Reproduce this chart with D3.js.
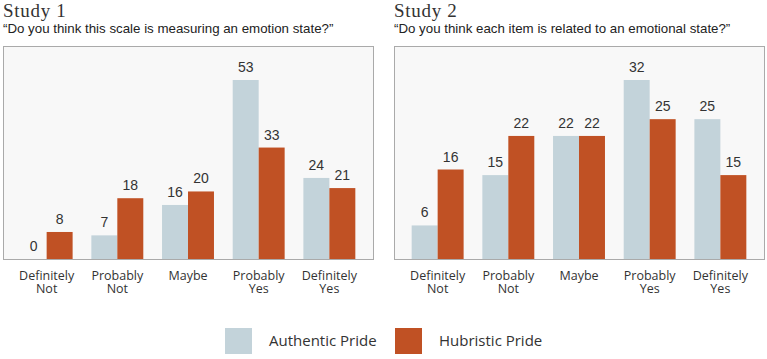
<!DOCTYPE html>
<html>
<head>
<meta charset="utf-8">
<script src="https://cdn.jsdelivr.net/npm/d3@7"></script>
<style>
  body { margin: 0; background: #fff; }
  svg { display: block; }
</style>
</head>
<body>
<svg width="767" height="359"></svg>
<script>
const categories = ["Definitely Not", "Probably Not", "Maybe", "Probably Yes", "Definitely Yes"];
const seriesNames = ["Authentic Pride", "Hubristic Pride"];
const study1Authentic = [0, 7, 16, 53, 24];
const study1Hubristic = [8, 18, 20, 33, 21];
const study2Authentic = [6, 15, 22, 32, 25];
const study2Hubristic = [16, 22, 22, 25, 15];
const titles = ["Study 1", "Study 2"];
const questions = [
  "\u201cDo you think this scale is measuring an emotion state?\u201d",
  "\u201cDo you think each item is related to an emotional state?\u201d"
];

const colors = ["#c3d3da", "#c05124"];
const svg = d3.select("svg");

const panels = [
  {x: 3, title: titles[0], question: questions[0], series: [study1Authentic, study1Hubristic]},
  {x: 394, title: titles[1], question: questions[1], series: [study2Authentic, study2Hubristic]}
];
const pw = 370, plotTop = 46, plotBottom = 259;

panels.forEach(p => {
  const g = svg.append("g").attr("transform", `translate(${p.x},0)`);

  g.append("text")
    .attr("x", 0).attr("y", 17)
    .style("font-family", "'Liberation Serif', serif")
    .style("font-size", "19px")
    .style("letter-spacing", "0.7px")
    .attr("fill", "#333")
    .text(p.title);

  g.append("text")
    .attr("x", 0).attr("y", 33)
    .style("font-family", "'Liberation Sans', Arial, sans-serif")
    .style("font-size", "13.3px")
    .attr("fill", "#222")
    .text(p.question);

  g.append("rect")
    .attr("x", 0.5).attr("y", plotTop + 0.5)
    .attr("width", pw).attr("height", plotBottom - plotTop)
    .attr("fill", "#f8f8f8")
    .attr("stroke", "#aaa");

  const x = d3.scaleBand()
    .domain(categories)
    .range([0, pw])
    .paddingInner(0.265)
    .paddingOuter(0.25);

  const xs = d3.scaleBand()
    .domain(seriesNames)
    .range([0, x.bandwidth()]);

  const maxV = d3.max(p.series.flat());
  const y = d3.scaleLinear()
    .domain([0, maxV * 1.19])
    .range([plotBottom, plotTop]);

  const rows = categories.map((c, i) => seriesNames.map((s, j) => ({cat: c, name: s, v: p.series[j][i], j})));

  const grp = g.selectAll(".grp")
    .data(rows)
    .join("g")
    .attr("transform", (d, i) => `translate(${x(categories[i])},0)`);

  grp.selectAll("rect")
    .data(d => d)
    .join("rect")
    .attr("x", d => xs(d.name))
    .attr("width", xs.bandwidth())
    .attr("y", d => y(d.v))
    .attr("height", d => plotBottom - y(d.v))
    .attr("fill", d => colors[d.j]);

  grp.selectAll(".lbl")
    .data(d => d)
    .join("text")
    .attr("class", "lbl")
    .attr("x", d => xs(d.name) + xs.bandwidth() / 2)
    .attr("y", d => y(d.v) - 8)
    .attr("text-anchor", "middle")
    .style("font-family", "'Liberation Sans', Arial, sans-serif")
    .style("font-size", "14px")
    .attr("fill", "#333")
    .text(d => d.v);

  // category labels, two lines each
  const axis = g.append("g")
    .attr("transform", `translate(0,${plotBottom})`)
    .call(d3.axisBottom(x).tickSize(0).tickPadding(0));
  axis.select(".domain").remove();
  axis.selectAll("text").each(function(d) {
    const t = d3.select(this);
    const words = d.split(" ");
    t.text(null)
      .attr("y", 0)
      .attr("dy", null)
      .style("font-family", "'Open Sans', sans-serif")
      .style("font-size", "12.5px")
      .attr("fill", "#333");
    words.forEach((w, k) => {
      t.append("tspan").attr("x", 0).attr("y", 21 + k * 13).text(w);
    });
  });
});

// legend
const legend = svg.append("g");
const legX = [225, 395];
seriesNames.forEach((s, i) => {
  legend.append("rect")
    .attr("x", legX[i]).attr("y", 328)
    .attr("width", 27).attr("height", 26)
    .attr("fill", colors[i]);
  legend.append("text")
    .attr("x", legX[i] + 44).attr("y", 346)
    .style("font-family", "'Open Sans', sans-serif")
    .style("font-size", "15px")
    .attr("fill", "#333")
    .text(s);
});
</script>
</body>
</html>
